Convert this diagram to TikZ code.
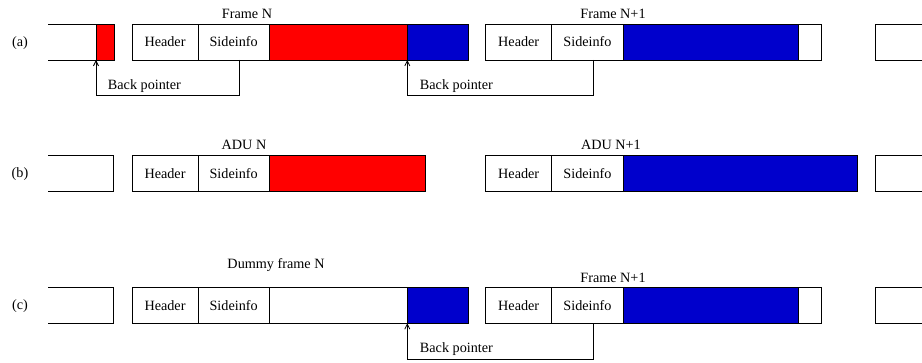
\documentclass[tikz,border=0pt]{standalone}
\usepackage{fontspec}
\setmainfont{Liberation Serif}
\usetikzlibrary{arrows.meta}
\definecolor{fred}{RGB}{255,0,0}
\definecolor{fblue}{RGB}{0,0,204}
\newcommand\cellbox[6]{\node[cell, fill=#5, minimum width={#3pt-#2pt}, anchor=north west] (#1) at (#2,#4) {#6};}
\begin{document}
\begin{tikzpicture}[x=1pt,y=-1pt, line width=0.9pt,
  txt/.style={inner sep=0, font=\fontsize{14.2}{17}\selectfont},
  cell/.style={draw, txt, outer sep=0, minimum height=36pt},
  ptr/.style={draw, line width=0.8pt, -{Straight Barb[length=5pt,width=5pt,line width=0.8pt]}}]
\useasboundingbox (0,0) rectangle (922,363);
% ---- row (a)
\node[txt] (la) at (20,43) {(a)};
\draw (48,24) -- (96,24) (48,60) -- (96,60);
\cellbox{ra}{96}{114}{24}{fred}{}
\cellbox{ha}{132}{198}{24}{white}{Header}
\cellbox{sa}{198}{269.3}{24}{white}{Sideinfo}
\cellbox{da}{269.3}{407.3}{24}{fred}{}
\cellbox{ba}{407.3}{468.3}{24}{fblue}{}
\node[txt] (fna) at (247,14) {Frame N};
\cellbox{hb}{485.7}{551.7}{24}{white}{Header}
\cellbox{sb}{551.7}{623.3}{24}{white}{Sideinfo}
\cellbox{db}{623.3}{798}{24}{fblue}{}
\cellbox{eb}{798}{821.7}{24}{white}{}
\node[txt] (fnb) at (613,14) {Frame N+1};
\draw (922,24) -- (875.3,24) -- (875.3,60) -- (922,60);
\coordinate (pa1) at (239.3,60);
\coordinate (pa2) at (593.7,60);
\draw[ptr] (pa1) -- ++(0,35.3) -| (ra.south west);
\draw[ptr] (pa2) -- ++(0,35.3) -| (ba.south west);
\node[txt, anchor=west] (bpa1) at (107.5,86) {Back pointer};
\node[txt, anchor=west] (bpa2) at (419.5,86) {Back pointer};
% ---- row (b)
\node[txt] (lb) at (20,174) {(b)};
\draw (48,155.5) -- (113.7,155.5) -- (113.7,191.5) -- (48,191.5);
\cellbox{hc}{132}{198}{155.5}{white}{Header}
\cellbox{sc}{198}{269.3}{155.5}{white}{Sideinfo}
\cellbox{dc}{269.3}{425.7}{155.5}{fred}{}
\node[txt] (adn) at (244,145) {ADU N};
\cellbox{hd}{485.7}{551.7}{155.5}{white}{Header}
\cellbox{sd}{551.7}{623.3}{155.5}{white}{Sideinfo}
\cellbox{dd}{623.3}{857.7}{155.5}{fblue}{}
\node[txt] (adn1) at (611,145) {ADU N+1};
\draw (922,155.5) -- (875.3,155.5) -- (875.3,191.5) -- (922,191.5);
% ---- row (c)
\node[txt] (lc) at (20,306) {(c)};
\draw (48,287.3) -- (113.7,287.3) -- (113.7,323.3) -- (48,323.3);
\cellbox{he}{132}{198}{287.3}{white}{Header}
\cellbox{se}{198}{269.3}{287.3}{white}{Sideinfo}
\cellbox{de}{269.3}{407.3}{287.3}{white}{}
\cellbox{be}{407.3}{468.3}{287.3}{fblue}{}
\node[txt] (dfn) at (276,265) {Dummy frame N};
\cellbox{hf}{485.7}{551.7}{287.3}{white}{Header}
\cellbox{sf}{551.7}{623.3}{287.3}{white}{Sideinfo}
\cellbox{df}{623.3}{798}{287.3}{fblue}{}
\cellbox{ef}{798}{821.7}{287.3}{white}{}
\node[txt] (fnc) at (613,277.7) {Frame N+1};
\draw (922,287.3) -- (875.3,287.3) -- (875.3,323.3) -- (922,323.3);
\coordinate (pc) at (593.7,323.3);
\draw[ptr] (pc) -- ++(0,36) -| (be.south west);
\node[txt, anchor=west] (bpc) at (419.5,349.3) {Back pointer};
\end{tikzpicture}
\end{document}
